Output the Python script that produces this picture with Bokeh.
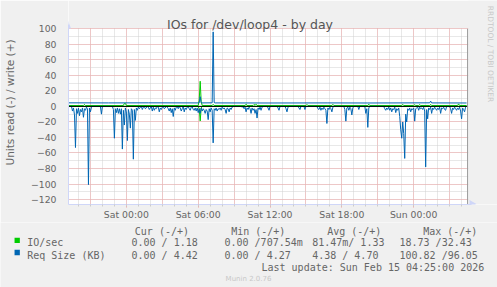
import math
import pandas as pd
from bokeh.plotting import figure
from bokeh.layouts import column
from bokeh.models import FixedTicker, Label, PolyAnnotation, BoxAnnotation
from bokeh.core.properties import value
from bokeh.embed import file_html
from bokeh.resources import INLINE

# ---------------- data ----------------
start_time = "2026-02-13 19:10"   # first 5-minute sample
plot_end_time = "2026-02-15 04:30"
step_minutes = 5

# Req Size (KB), read (plotted negative): 5-minute sample index -> value
read_req_idx = [0, 3, 4, 5, 6, 7, 8, 9, 10, 11, 12, 13, 14, 15, 16, 17, 18, 19, 20, 21, 22, 23, 24,
                32, 33, 34,
                44, 45, 46, 47, 48, 49, 50, 51, 52, 53, 54, 55, 56, 57, 58, 59, 60, 61, 62, 63, 64, 65, 66, 67, 68, 69,
                70, 71, 72, 73, 74, 75, 76, 77, 78, 79, 80, 81, 82, 83, 84, 85, 86, 87, 88, 89, 90, 91, 92, 93, 94, 95,
                96, 97, 98, 99, 100, 101, 102, 103, 104, 105, 106, 107, 108, 109, 110, 111, 112, 113, 114, 115, 116,
                117, 118, 119, 120, 121, 122, 123, 124, 125, 126, 127, 128, 129, 130, 131, 132, 133, 134, 135, 136,
                137, 138, 139, 140, 141, 142, 143, 144, 145, 146, 147, 148, 149, 150, 151, 152, 153, 154, 155, 156,
                157, 158, 159, 160, 161, 162, 163, 164, 165,
                173, 174, 175, 176, 177, 178, 179, 180, 181, 182, 183, 184, 185, 186, 187, 188, 189, 190, 191, 192,
                193, 194, 195,
                199, 200, 201, 202, 209, 210, 211, 212, 217, 218, 219, 220, 221, 230, 231, 232, 233, 236, 237, 238,
                249, 250, 251, 252, 253, 254, 255, 256, 257, 258, 259, 260, 261, 262, 263, 264, 265, 266,
                276, 277, 278, 279, 280, 281, 282, 283, 284, 285, 286, 290, 291, 292, 297, 298, 299, 300, 301, 302,
                316, 317, 318, 319, 320, 321, 322, 323, 324, 325, 326, 327, 328, 329, 330, 331, 332, 333, 334, 335,
                336, 337, 338, 339, 340, 341, 342, 343, 344, 345, 346, 347, 348, 349, 350, 351, 352, 353, 354, 355,
                356, 357, 358, 359, 360, 361, 362, 363, 364, 365, 366, 367, 368, 369, 370, 371, 372, 373, 374, 375,
                376, 377, 378, 379, 382, 383, 384, 385, 386, 387, 388, 389, 390, 391, 392, 393, 394, 395, 396, 397,
                398, 399]
read_req_val = [0, 0, 6, 2, 11, 53, 3, 9, 2, 12, 4, 7, 2, 14, 3, 5, 1, 3, 100.82, 2, 7, 1, 0,
                0, 10, 0,
                0, 4, 41, 3, 8, 2, 9, 3, 10, 3, 55, 5, 24, 2, 7, 44, 4, 10, 28, 3, 5, 68, 4, 18, 2, 5,
                1, 3, 1, 0, 4, 1, 0, 3, 2, 0, 1, 4, 2, 0, 6, 1, 5, 2, 3, 0, 1, 7, 2, 4, 1, 0,
                3, 2, 0, 1, 3, 6, 2, 8, 3, 13, 2, 5, 1, 0, 3, 0, 2, 6, 3, 0, 7,
                2, 4, 1, 0, 3, 5, 1, 0, 4, 5, 2, 6, 2, 8, 3, 9, 2, 6, 3, 5,
                9, 4, 6, 17, 3, 7, 2, 5, 47, 3, 5, 2, 6, 3, 4, 2, 5, 1, 3, 2,
                4, 9, 2, 3, 7, 2, 4, 1, 0,
                0, 1, 0, 3, 1, 7, 2, 4, 1, 3, 9, 2, 5, 3, 9, 4, 15, 2, 4, 1,
                5, 1, 0,
                0, 2, 5, 0, 0, 2, 5, 0, 0, 3, 7, 1, 0, 0, 2, 4, 0, 0, 4, 0,
                0, 3, 4, 1, 5, 2, 4, 1, 3, 5, 22, 2, 4, 1, 3, 7, 1, 0,
                0, 4, 19, 2, 1, 5, 1, 3, 11, 2, 0, 0, 4, 0, 0, 9, 3, 27, 2, 0,
                0, 3, 5, 2, 4, 1, 5, 2, 7, 3, 4, 1, 8, 3, 5, 2, 13, 30, 41, 20,
                35, 67, 10, 20, 3, 5, 2, 7, 3, 4, 2, 19, 3, 2, 1, 5, 1, 3, 2, 4,
                1, 6, 78, 4, 16, 2, 4, 1, 9, 2, 4, 1, 3, 5, 2, 4, 1, 9, 2, 3,
                1, 4, 5, 0, 0, 3, 9, 2, 4, 1, 3, 5, 2, 4, 1, 6, 16, 2, 4, 7,
                1, 0]

# Req Size (KB), write (plotted positive)
write_req_idx = [0, 40, 80, 130, 131, 132, 133, 144, 145, 146, 147, 200, 260, 300, 362, 363, 364, 399]
write_req_val = [4.6, 4.5, 4.6, 4.5, 4.6, 12.5, 4.5, 4.6, 96.05, 5.0, 4.5, 4.4, 4.5, 4.4, 4.6, 6.8, 4.5, 4.42]

# IO/sec, read (plotted negative)
read_ios_idx = [0, 130, 131, 132, 133, 134, 399]
read_ios_val = [0, 0, 3, 18.73, 2, 0, 0]

# IO/sec, write (plotted positive)
write_ios_idx = [0, 15, 16, 17, 55, 56, 57, 58, 130, 131, 132, 133, 134, 144, 145, 146, 177, 178, 179,
                 185, 186, 187, 188, 189, 238, 239, 240, 264, 265, 266, 300, 301, 302, 334, 335, 336,
                 346, 347, 348, 351, 352, 353, 362, 363, 364, 390, 391, 392, 399]
write_ios_val = [1.1, 1.1, 2.5, 1.1, 1.1, 3.8, 3.9, 1.2, 1.2, 8, 32.43, 6, 1.2, 1.2, 2.6, 1.2, 1.2, 2.8, 1.2,
                 1.2, 2.5, 1.3, 2.8, 1.2, 1.2, 2.5, 1.2, 1.2, 2.6, 1.2, 1.2, 2.8, 1.2, 1.2, 2.6, 1.2,
                 1.2, 2.2, 1.2, 1.2, 2.4, 1.2, 1.2, 2.6, 1.2, 1.2, 3.2, 1.2, 1.18]

x_tick_times = ["2026-02-14 00:00", "2026-02-14 06:00", "2026-02-14 12:00",
                "2026-02-14 18:00", "2026-02-15 00:00"]
x_tick_labels = ["Sat 00:00", "Sat 06:00", "Sat 12:00", "Sat 18:00", "Sun 00:00"]
y_ticks = [-120, -100, -80, -60, -40, -20, 0, 20, 40, 60, 80, 100]
y_minor = [-120, -110, -100, -90, -80, -70, -60, -50, -40, -30, -20, -10, 0,
           10, 20, 30, 40, 50, 60, 70, 80, 90, 100]
y_min, y_max = -126.4, 100

legend_names = ["IO/sec", "Req Size (KB)"]
legend_colors = ["#00CC00", "#0066B3"]
legend_cur = ["0.00 / 1.18", "0.00 / 4.42"]
legend_min = ["0.00 /707.54m", "0.00 / 4.27"]
legend_avg = ["81.47m/ 1.33", " 4.38 / 4.70"]
legend_max = [" 18.73 /32.43", "100.82 /96.05"]
legend_headers = ["Cur (-/+)", "Min (-/+)", "Avg (-/+)", "Max (-/+)"]
title_text = "IOs for /dev/loop4 - by day"
y_label = "Units read (-) / write (+)"
last_update = "Last update: Sun Feb 15 04:25:00 2026"
version_text = "Munin 2.0.76"
watermark = "RRDTOOL / TOBI OETIKER"

# ---------------- helpers ----------------
def ms(ts):
    return pd.Timestamp(ts).value / 1e6

t0 = ms(start_time)
step_ms = step_minutes * 60 * 1000.0
plot_end = ms(plot_end_time)

def xs(idx):
    return [t0 + i * step_ms for i in idx]

W = 497
H_MAIN = 222
H_LEG = 287 - H_MAIN
FL = 67            # frame left (canvas px)
FB = 204           # frame bottom (canvas px)
PX_PER_MS = 400.0 / (plot_end - t0)     # plot area is 400 px wide
PX_PER_Y = 175.7 / (y_max - y_min)      # plot area 100 -> -126.4 is 175.7 px tall

# frame spans the whole canvas to the top and right so that decorations can be drawn there
x_frame_end = t0 + (W - FL) / PX_PER_MS
y_frame_top = y_min + FB / PX_PER_Y

p = figure(width=W, height=H_MAIN, output_backend="svg", toolbar_location=None,
           x_range=(t0, x_frame_end), y_range=(y_min, y_frame_top),
           min_border_left=FL, min_border_right=0, min_border_top=0, min_border_bottom=H_MAIN - FB,
           title=None)
p.frame_align = False
p.background_fill_color = "#FFFFFF"
p.border_fill_color = "#F0F0F0"
p.outline_line_color = None

FONT = "DejaVu Sans"
MONO = "DejaVu Sans Mono"
TXT = "#666666"
AXIS = "#CFD6F8"

# x axis
tick_ms = [ms(t) for t in x_tick_times]
hours = [ms(t) for t in pd.date_range("2026-02-13 20:00", "2026-02-15 04:00", freq="1h")]
three_h = [ms(t) for t in pd.date_range("2026-02-13 21:00", "2026-02-15 03:00", freq="3h")]
xa = p.xaxis[0]
xa.ticker = FixedTicker(ticks=tick_ms, minor_ticks=hours)
xa.major_label_overrides = {v: l for v, l in zip(tick_ms, x_tick_labels)}
xa.bounds = (t0, plot_end + 3.5 / PX_PER_MS)
xa.axis_line_color = AXIS
xa.major_tick_line_color = "#F2A6A6"
xa.major_tick_out = 3
xa.major_tick_in = 0
xa.minor_tick_line_color = "#CCCCCC"
xa.minor_tick_out = 2
xa.minor_tick_in = 0
xa.major_label_standoff = 1
xa.major_label_text_font = FONT
xa.major_label_text_font_size = "9.3px"
xa.major_label_text_color = TXT

# y axis
ya = p.yaxis[0]
ya.ticker = FixedTicker(ticks=y_ticks, minor_ticks=y_minor)
ya.bounds = (y_min, y_max + 4.0 / PX_PER_Y)
ya.axis_line_color = AXIS
ya.major_tick_line_color = None
ya.minor_tick_line_color = None
ya.major_label_standoff = 6
ya.major_label_text_font = FONT
ya.major_label_text_font_size = "9.3px"
ya.major_label_text_color = TXT
ya.axis_label = y_label
ya.axis_label_text_font = FONT
ya.axis_label_text_font_size = "10.5px"
ya.axis_label_text_font_style = "normal"
ya.axis_label_text_color = TXT
ya.axis_label_standoff = 12

# grids
p.xgrid.ticker = FixedTicker(ticks=three_h, minor_ticks=hours)
p.ygrid.ticker = FixedTicker(ticks=y_ticks, minor_ticks=y_minor)
for g in (p.xgrid[0], p.ygrid[0]):
    g.grid_line_color = "#F2A6A6"
    g.grid_line_dash = "1 1"
    g.grid_line_width = 1
    g.minor_grid_line_color = "#D0D0D0"
    g.minor_grid_line_dash = "1 1"
    g.minor_grid_line_width = 1

# grey surround of the plot area (outside 100 and right of the last sample)
p.add_layout(BoxAnnotation(bottom=y_max + 0.8 / PX_PER_Y, fill_color="#F0F0F0", fill_alpha=1,
                           line_color=None, level="underlay"))
p.add_layout(BoxAnnotation(left=plot_end + 0.6 / PX_PER_MS, fill_color="#F0F0F0", fill_alpha=1,
                           line_color=None, level="underlay"))

# series
p.line(xs(read_ios_idx), [-v for v in read_ios_val], line_color=legend_colors[0], line_width=1)
p.line(xs(write_ios_idx), write_ios_val, line_color=legend_colors[0], line_width=1)
p.line(xs(read_req_idx), [-v for v in read_req_val], line_color=legend_colors[1], line_width=1)
p.line(xs(write_req_idx), write_req_val, line_color=legend_colors[1], line_width=1)
# zero rule and right edge of the plot area
p.line([t0, plot_end], [0, 0], line_color="#000000", line_width=1)
p.segment(x0=[plot_end], y0=[y_min], x1=[plot_end], y1=[y_max], line_color="#9A9A9A", line_width=1)

# arrows (frame-relative screen px)
p.add_layout(PolyAnnotation(xs=[-3.5, -0.5, 2.5], ys=[176, 184, 176], xs_units="screen", ys_units="screen",
                            fill_color=AXIS, fill_alpha=1, line_color=None))
p.add_layout(PolyAnnotation(xs=[401, 408, 401], ys=[4.5, 0.5, -3.5], xs_units="screen", ys_units="screen",
                            fill_color=AXIS, fill_alpha=1, line_color=None))

def lab(text, cx, cy, size="10px", color=TXT, align="left", baseline="alphabetic", angle=0):
    p.add_layout(Label(x=cx - FL, y=FB - cy, x_units="screen", y_units="screen", text=text,
                       text_font=FONT, text_font_size=size, text_color=color, text_align=align,
                       text_baseline=baseline, angle=angle))

lab(title_text, 248.5, 24, size="12.5px", color="#555555", align="center")
lab(watermark, 489, 53.5, size="7.5px", color="#C8C8C8", align="center", baseline="middle",
    angle=-math.pi / 2)

# ---------------- legend (canvas pixel coordinates) ----------------
p2 = figure(width=W, height=H_LEG, x_range=(0, W), y_range=(287, H_MAIN), output_backend="svg",
            toolbar_location=None, min_border=0, x_axis_location=None, y_axis_location=None)
p2.frame_align = False
p2.background_fill_color = "#F0F0F0"
p2.border_fill_color = "#F0F0F0"
p2.outline_line_color = None
for g in p2.grid:
    g.visible = False

head_x = [134.3, 230.7, 326.7, 422.7]
row_y = [242.3, 254.5]
tx, ty, tt = [], [], []
for h, hx in zip(legend_headers, head_x):
    tx.append(hx); ty.append(230.7); tt.append(h)
for i in range(2):
    for txt, cx in zip([legend_names[i], legend_cur[i], legend_min[i], legend_avg[i], legend_max[i]],
                       [26.7, 131, 224, 311.7, 399]):
        tx.append(cx); ty.append(row_y[i]); tt.append(txt)
tx.append(261); ty.append(266.7); tt.append(last_update)
p2.text(x=tx, y=ty, text=tt, text_font=value(MONO), text_font_size=value("10px"),
        text_color=TXT, text_align="left", text_baseline="alphabetic")
p2.rect(x=[16.7, 16.7], y=[239.8, 252.0], width=5.3, height=5.3, fill_color=legend_colors,
        line_color=None)
p2.text(x=[248], y=[278.5], text=[version_text], text_font=value(FONT), text_font_size=value("7px"),
        text_color="#C8C8C8", text_align="center", text_baseline="alphabetic")

open("out.html", "w").write(file_html(column(p, p2, spacing=0), INLINE))
